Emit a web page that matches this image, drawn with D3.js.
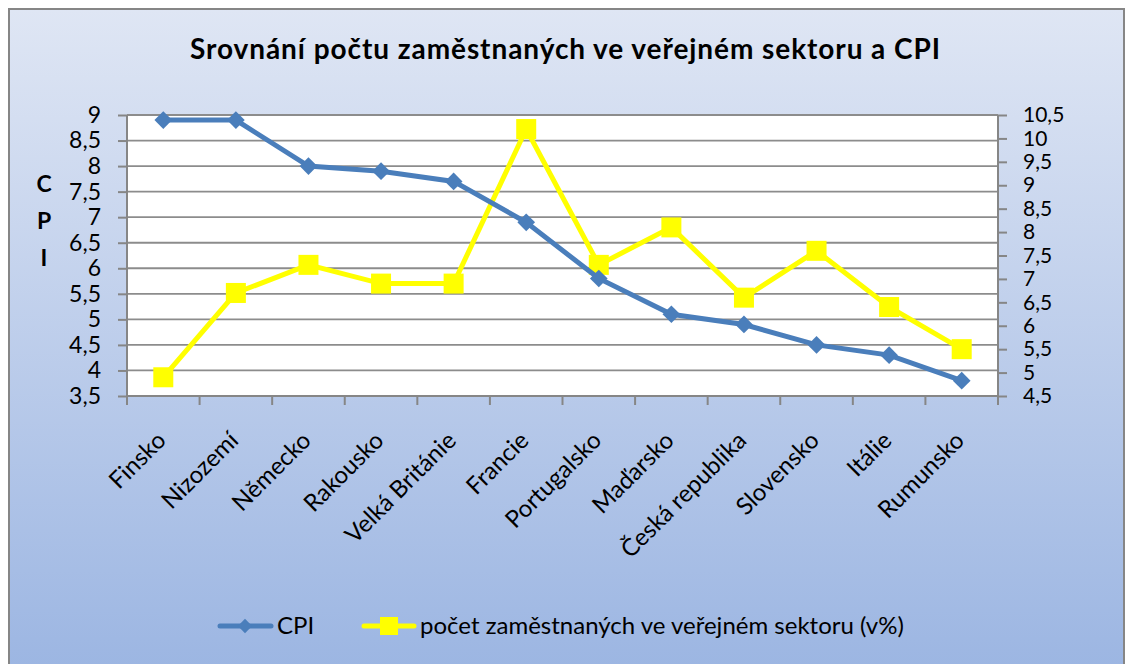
<!DOCTYPE html>
<html>
<head>
<meta charset="utf-8">
<script src="https://cdn.jsdelivr.net/npm/d3@7"></script>
<style>
  body { margin: 0; background: #fff; }
  text { font-family: Lato, "Open Sans", sans-serif; fill: #000; }
</style>
</head>
<body>
<div id="chart"></div>
<script>
var countries = ["Finsko", "Nizozemí", "Německo", "Rakousko", "Velká Británie", "Francie",
                 "Portugalsko", "Maďarsko", "Česká republika", "Slovensko", "Itálie", "Rumunsko"];
var cpi = [8.9, 8.9, 8.0, 7.9, 7.7, 6.9, 5.8, 5.1, 4.9, 4.5, 4.3, 3.8];
var publicSector = [4.9, 6.7, 7.3, 6.9, 6.9, 10.2, 7.3, 8.1, 6.6, 7.6, 6.4, 5.5];
var leftTicks = [3.5, 4, 4.5, 5, 5.5, 6, 6.5, 7, 7.5, 8, 8.5, 9];
var rightTicks = [4.5, 5, 5.5, 6, 6.5, 7, 7.5, 8, 8.5, 9, 9.5, 10, 10.5];

var W = 1126, H = 664;
var plot = {left: 127, right: 998, top: 115, bottom: 396};

var svg = d3.select("#chart").append("svg")
    .attr("width", W).attr("height", H);

// background gradient
var grad = svg.append("defs").append("linearGradient")
    .attr("id", "bg").attr("x1", 0).attr("y1", 0).attr("x2", 0).attr("y2", 1);
grad.append("stop").attr("offset", "0%").attr("stop-color", "#dfe6f4");
grad.append("stop").attr("offset", "100%").attr("stop-color", "#9bb5e2");

svg.append("rect")
    .attr("x", 9).attr("y", 9).attr("width", 1115).attr("height", 670)
    .attr("fill", "url(#bg)").attr("stroke", "#868686").attr("stroke-width", 2);

svg.append("rect")
    .attr("x", plot.left).attr("y", plot.top)
    .attr("width", plot.right - plot.left).attr("height", plot.bottom - plot.top)
    .attr("fill", "#fff");

var x = d3.scaleBand().domain(countries).range([plot.left, plot.right]);
var yL = d3.scaleLinear().domain([3.5, 9]).range([plot.bottom, plot.top]);
var yR = d3.scaleLinear().domain([4.5, 10.5]).range([plot.bottom, plot.top]);
var fmt = function(d) { return String(d).replace(".", ","); };

// gridlines
svg.append("g").selectAll("line").data(leftTicks)
    .enter().append("line")
    .attr("x1", plot.left).attr("x2", plot.right)
    .attr("y1", function(d) { return yL(d); })
    .attr("y2", function(d) { return yL(d); })
    .attr("stroke", "#8c8c8c").attr("stroke-width", 1.8);

// axes
var axisL = svg.append("g").attr("transform", "translate(" + plot.left + ",0)")
    .call(d3.axisLeft(yL).tickValues(leftTicks).tickFormat(fmt).tickSize(9).tickPadding(17));
var axisR = svg.append("g").attr("transform", "translate(" + plot.right + ",0)")
    .call(d3.axisRight(yR).tickValues(rightTicks).tickFormat(fmt).tickSize(9).tickPadding(16));
var axisX = svg.append("g").attr("transform", "translate(0," + plot.bottom + ")")
    .call(d3.axisBottom(x).tickSize(9).tickFormat(""));
// category boundary ticks
axisX.selectAll(".tick").attr("transform", function(d) {
    return "translate(" + x(d) + ",0)";
});
axisX.append("line").attr("x1", plot.right).attr("x2", plot.right)
    .attr("y1", 0).attr("y2", 9).attr("stroke", "#868686").attr("stroke-width", 2);

[axisL, axisR, axisX].forEach(function(a) {
    a.select(".domain").attr("stroke", "#868686").attr("stroke-width", 2);
    a.selectAll(".tick line").attr("stroke", "#868686").attr("stroke-width", 2);
    a.selectAll("text").style("font-size", "23px").style("font-family", "Lato, sans-serif").attr("fill", "#000");
});
axisR.selectAll("text").style("font-size", "21px");
axisL.select(".domain").attr("d", "M0," + plot.top + "V" + plot.bottom);
axisR.select(".domain").attr("d", "M0," + plot.top + "V" + plot.bottom);
axisX.select(".domain").attr("d", "M" + plot.left + ",0H" + plot.right);

// rotated category labels
svg.append("g").selectAll("text").data(countries)
    .enter().append("text")
    .attr("transform", function(d) {
        return "translate(" + (x(d) + x.bandwidth() / 2 + 4) + "," + (plot.bottom + 46) + ") rotate(-45)";
    })
    .attr("text-anchor", "end")
    .style("font-size", "24px")
    .text(function(d) { return d; });

// title
svg.append("text")
    .attr("x", 565).attr("y", 59)
    .attr("text-anchor", "middle")
    .attr("textLength", 750).attr("lengthAdjust", "spacing")
    .style("font-size", "28px").style("font-weight", "bold")
    .text("Srovnání počtu zaměstnaných ve veřejném sektoru a CPI");

// left axis title
svg.append("g").selectAll("text").data(["C", "P", "I"])
    .enter().append("text")
    .attr("x", 44).attr("y", function(d, i) { return 192 + i * 37; })
    .attr("text-anchor", "middle")
    .style("font-size", "23px").style("font-weight", "bold")
    .text(function(d) { return d; });

var cx = function(d, i) { return x(countries[i]) + x.bandwidth() / 2; };

// yellow series (right axis)
svg.append("path")
    .attr("d", d3.line().x(cx).y(function(d) { return yR(d); })(publicSector))
    .attr("fill", "none").attr("stroke", "#ffff00").attr("stroke-width", 5);
svg.append("g").selectAll("rect").data(publicSector)
    .enter().append("rect")
    .attr("x", function(d, i) { return cx(d, i) - 10; })
    .attr("y", function(d) { return yR(d) - 10; })
    .attr("width", 20).attr("height", 20)
    .attr("fill", "#ffff00");

// blue series (left axis)
svg.append("path")
    .attr("d", d3.line().x(cx).y(function(d) { return yL(d); })(cpi))
    .attr("fill", "none").attr("stroke", "#4a7ebb").attr("stroke-width", 5);
var diamond = d3.symbol().type(d3.symbolDiamond2).size(200);
svg.append("g").selectAll("path").data(cpi)
    .enter().append("path")
    .attr("d", diamond)
    .attr("transform", function(d, i) { return "translate(" + cx(d, i) + "," + yL(d) + ")"; })
    .attr("fill", "#4a7ebb");

// legend
var lg = svg.append("g");
lg.append("line").attr("x1", 220).attr("x2", 271).attr("y1", 626).attr("y2", 626)
    .attr("stroke", "#4a7ebb").attr("stroke-width", 5).attr("stroke-linecap", "round");
lg.append("path").attr("d", d3.symbol().type(d3.symbolDiamond2).size(130))
    .attr("transform", "translate(245,626)").attr("fill", "#4a7ebb");
lg.append("text").attr("x", 277).attr("y", 634).style("font-size", "24px").text("CPI");
lg.append("line").attr("x1", 364).attr("x2", 414).attr("y1", 626).attr("y2", 626)
    .attr("stroke", "#ffff00").attr("stroke-width", 5).attr("stroke-linecap", "round");
lg.append("rect").attr("x", 380).attr("y", 617).attr("width", 18).attr("height", 18).attr("fill", "#ffff00");
lg.append("text").attr("x", 420).attr("y", 634).style("font-size", "24px")
    .text("počet zaměstnaných ve veřejném sektoru (v%)");
</script>
</body>
</html>
